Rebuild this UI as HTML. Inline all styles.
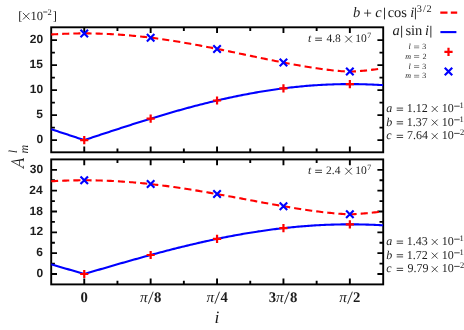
<!DOCTYPE html>
<html><head><meta charset="utf-8"><title>plot</title>
<style>
html,body{margin:0;padding:0;background:#fff;}
svg{display:block;will-change:transform;opacity:0.999}
text{font-family:"Liberation Serif",serif;fill:#1c1c1c;text-rendering:geometricPrecision}
.sb{font-family:"Liberation Sans",sans-serif;font-weight:bold}
.b{font-weight:bold}
.i{font-style:italic}
.sym{stroke:#1c1c1c;fill:none}
</style></head><body>
<svg width="464" height="330" viewBox="0 0 464 330">
<rect width="464" height="330" fill="#fff"/>

<clipPath id="c0"><rect x="51.2" y="27.3" width="332.0" height="125.00000000000001"/></clipPath>
<path d="M84.25,27.3v5.8M84.25,152.3v-5.8M117.45,27.3v3.7M117.45,152.3v-3.7M150.65,27.3v5.8M150.65,152.3v-5.8M183.85,27.3v3.7M183.85,152.3v-3.7M217.05,27.3v5.8M217.05,152.3v-5.8M250.25,27.3v3.7M250.25,152.3v-3.7M283.45,27.3v5.8M283.45,152.3v-5.8M316.65,27.3v3.7M316.65,152.3v-3.7M349.85,27.3v5.8M349.85,152.3v-5.8M51.2,140.10h5.8M383.2,140.10h-5.8M51.2,127.60h3.7M383.2,127.60h-3.7M51.2,115.10h5.8M383.2,115.10h-5.8M51.2,102.60h3.7M383.2,102.60h-3.7M51.2,90.10h5.8M383.2,90.10h-5.8M51.2,77.60h3.7M383.2,77.60h-3.7M51.2,65.10h5.8M383.2,65.10h-5.8M51.2,52.60h3.7M383.2,52.60h-3.7M51.2,40.10h5.8M383.2,40.10h-5.8" stroke="#000" stroke-width="1.9" fill="none"/>
<rect x="51.2" y="27.3" width="332.0" height="125.00000000000001" fill="none" stroke="#000" stroke-width="1.9"/>
<g clip-path="url(#c0)">
<path d="M51.05,34.50 L52.71,34.39 L54.37,34.29 L56.03,34.19 L57.69,34.10 L59.35,34.02 L61.01,33.94 L62.67,33.87 L64.33,33.80 L65.99,33.73 L67.65,33.68 L69.31,33.62 L70.97,33.58 L72.63,33.54 L74.29,33.50 L75.95,33.47 L77.61,33.44 L79.27,33.42 L80.93,33.41 L82.59,33.40 L84.25,33.40 L85.91,33.40 L87.57,33.41 L89.23,33.42 L90.89,33.44 L92.55,33.47 L94.21,33.50 L95.87,33.54 L97.53,33.58 L99.19,33.62 L100.85,33.68 L102.51,33.73 L104.17,33.80 L105.83,33.87 L107.49,33.94 L109.15,34.02 L110.81,34.10 L112.47,34.19 L114.13,34.29 L115.79,34.39 L117.45,34.50 L119.11,34.61 L120.77,34.72 L122.43,34.85 L124.09,34.97 L125.75,35.10 L127.41,35.24 L129.07,35.38 L130.73,35.53 L132.39,35.68 L134.05,35.84 L135.71,36.00 L137.37,36.17 L139.03,36.34 L140.69,36.52 L142.35,36.70 L144.01,36.89 L145.67,37.08 L147.33,37.27 L148.99,37.47 L150.65,37.68 L152.31,37.89 L153.97,38.10 L155.63,38.32 L157.29,38.54 L158.95,38.77 L160.61,39.00 L162.27,39.23 L163.93,39.47 L165.59,39.72 L167.25,39.96 L168.91,40.21 L170.57,40.47 L172.23,40.73 L173.89,40.99 L175.55,41.25 L177.21,41.52 L178.87,41.80 L180.53,42.07 L182.19,42.35 L183.85,42.64 L185.51,42.92 L187.17,43.21 L188.83,43.51 L190.49,43.80 L192.15,44.10 L193.81,44.40 L195.47,44.71 L197.13,45.02 L198.79,45.33 L200.45,45.64 L202.11,45.95 L203.77,46.27 L205.43,46.59 L207.09,46.91 L208.75,47.24 L210.41,47.56 L212.07,47.89 L213.73,48.22 L215.39,48.55 L217.05,48.89 L218.71,49.22 L220.37,49.56 L222.03,49.90 L223.69,50.24 L225.35,50.58 L227.01,50.92 L228.67,51.26 L230.33,51.61 L231.99,51.95 L233.65,52.30 L235.31,52.64 L236.97,52.99 L238.63,53.34 L240.29,53.69 L241.95,54.04 L243.61,54.39 L245.27,54.73 L246.93,55.08 L248.59,55.43 L250.25,55.78 L251.91,56.13 L253.57,56.48 L255.23,56.83 L256.89,57.17 L258.55,57.52 L260.21,57.86 L261.87,58.21 L263.53,58.55 L265.19,58.90 L266.85,59.24 L268.51,59.58 L270.17,59.91 L271.83,60.25 L273.49,60.59 L275.15,60.92 L276.81,61.25 L278.47,61.58 L280.13,61.91 L281.79,62.23 L283.45,62.56 L285.11,62.88 L286.77,63.19 L288.43,63.51 L290.09,63.82 L291.75,64.13 L293.41,64.44 L295.07,64.74 L296.73,65.04 L298.39,65.33 L300.05,65.63 L301.71,65.91 L303.37,66.20 L305.03,66.48 L306.69,66.75 L308.35,67.02 L310.01,67.29 L311.67,67.55 L313.33,67.81 L314.99,68.06 L316.65,68.31 L318.31,68.55 L319.97,68.78 L321.63,69.01 L323.29,69.24 L324.95,69.45 L326.61,69.66 L328.27,69.87 L329.93,70.06 L331.59,70.25 L333.25,70.43 L334.91,70.60 L336.57,70.76 L338.23,70.91 L339.89,71.05 L341.55,71.18 L343.21,71.30 L344.87,71.41 L346.53,71.49 L348.19,71.56 L349.85,71.60 L351.51,71.56 L353.17,71.49 L354.83,71.41 L356.49,71.30 L358.15,71.18 L359.81,71.05 L361.47,70.91 L363.13,70.76 L364.79,70.60 L366.45,70.43 L368.11,70.25 L369.77,70.06 L371.43,69.87 L373.09,69.66 L374.75,69.45 L376.41,69.24 L378.07,69.01 L379.73,68.78" fill="none" stroke="#ff0000" stroke-width="2.1" stroke-dasharray="7.1,4.05" stroke-dashoffset="0"/>
<path d="M51.05,129.17 L52.71,129.71 L54.37,130.26 L56.03,130.80 L57.69,131.34 L59.35,131.88 L61.01,132.43 L62.67,132.97 L64.33,133.52 L65.99,134.06 L67.65,134.61 L69.31,135.16 L70.97,135.71 L72.63,136.25 L74.29,136.80 L75.95,137.35 L77.61,137.90 L79.27,138.45 L80.93,139.00 L82.59,139.55 L84.25,140.10 L85.91,139.55 L87.57,139.00 L89.23,138.45 L90.89,137.90 L92.55,137.35 L94.21,136.80 L95.87,136.25 L97.53,135.71 L99.19,135.16 L100.85,134.61 L102.51,134.06 L104.17,133.52 L105.83,132.97 L107.49,132.43 L109.15,131.88 L110.81,131.34 L112.47,130.80 L114.13,130.26 L115.79,129.71 L117.45,129.17 L119.11,128.64 L120.77,128.10 L122.43,127.56 L124.09,127.03 L125.75,126.49 L127.41,125.96 L129.07,125.43 L130.73,124.90 L132.39,124.37 L134.05,123.84 L135.71,123.32 L137.37,122.80 L139.03,122.27 L140.69,121.75 L142.35,121.23 L144.01,120.72 L145.67,120.20 L147.33,119.69 L148.99,119.18 L150.65,118.67 L152.31,118.16 L153.97,117.66 L155.63,117.16 L157.29,116.66 L158.95,116.16 L160.61,115.66 L162.27,115.17 L163.93,114.68 L165.59,114.19 L167.25,113.70 L168.91,113.22 L170.57,112.74 L172.23,112.26 L173.89,111.78 L175.55,111.31 L177.21,110.84 L178.87,110.37 L180.53,109.91 L182.19,109.45 L183.85,108.99 L185.51,108.53 L187.17,108.08 L188.83,107.63 L190.49,107.18 L192.15,106.74 L193.81,106.30 L195.47,105.86 L197.13,105.43 L198.79,105.00 L200.45,104.57 L202.11,104.15 L203.77,103.73 L205.43,103.31 L207.09,102.90 L208.75,102.49 L210.41,102.09 L212.07,101.69 L213.73,101.29 L215.39,100.89 L217.05,100.50 L218.71,100.12 L220.37,99.73 L222.03,99.35 L223.69,98.98 L225.35,98.61 L227.01,98.24 L228.67,97.88 L230.33,97.52 L231.99,97.16 L233.65,96.81 L235.31,96.46 L236.97,96.12 L238.63,95.78 L240.29,95.45 L241.95,95.12 L243.61,94.80 L245.27,94.47 L246.93,94.16 L248.59,93.85 L250.25,93.54 L251.91,93.23 L253.57,92.94 L255.23,92.64 L256.89,92.35 L258.55,92.07 L260.21,91.79 L261.87,91.51 L263.53,91.24 L265.19,90.97 L266.85,90.71 L268.51,90.46 L270.17,90.20 L271.83,89.96 L273.49,89.71 L275.15,89.48 L276.81,89.24 L278.47,89.02 L280.13,88.79 L281.79,88.58 L283.45,88.36 L285.11,88.15 L286.77,87.95 L288.43,87.75 L290.09,87.56 L291.75,87.37 L293.41,87.19 L295.07,87.01 L296.73,86.84 L298.39,86.67 L300.05,86.51 L301.71,86.35 L303.37,86.20 L305.03,86.06 L306.69,85.91 L308.35,85.78 L310.01,85.65 L311.67,85.52 L313.33,85.40 L314.99,85.29 L316.65,85.18 L318.31,85.07 L319.97,84.97 L321.63,84.88 L323.29,84.79 L324.95,84.71 L326.61,84.63 L328.27,84.56 L329.93,84.49 L331.59,84.43 L333.25,84.37 L334.91,84.32 L336.57,84.27 L338.23,84.23 L339.89,84.20 L341.55,84.17 L343.21,84.14 L344.87,84.12 L346.53,84.11 L348.19,84.10 L349.85,84.10 L351.51,84.10 L353.17,84.11 L354.83,84.12 L356.49,84.14 L358.15,84.17 L359.81,84.20 L361.47,84.23 L363.13,84.27 L364.79,84.32 L366.45,84.37 L368.11,84.43 L369.77,84.49 L371.43,84.56 L373.09,84.63 L374.75,84.71 L376.41,84.79 L378.07,84.88 L379.73,84.97 L381.39,85.07 L383.05,85.18" fill="none" stroke="#0000ff" stroke-width="2.1"/>
</g>
<path d="M80.15,140.10H88.35M84.25,136.00V144.20" stroke="#ff0000" stroke-width="2.2" fill="none"/>
<path d="M80.50,29.65L88.00,37.15M80.50,37.15L88.00,29.65" stroke="#0000ff" stroke-width="2.15" fill="none"/>
<path d="M146.55,118.67H154.75M150.65,114.57V122.77" stroke="#ff0000" stroke-width="2.2" fill="none"/>
<path d="M146.90,33.93L154.40,41.43M146.90,41.43L154.40,33.93" stroke="#0000ff" stroke-width="2.15" fill="none"/>
<path d="M212.95,100.50H221.15M217.05,96.40V104.60" stroke="#ff0000" stroke-width="2.2" fill="none"/>
<path d="M213.30,45.14L220.80,52.64M213.30,52.64L220.80,45.14" stroke="#0000ff" stroke-width="2.15" fill="none"/>
<path d="M279.35,88.36H287.55M283.45,84.26V92.46" stroke="#ff0000" stroke-width="2.2" fill="none"/>
<path d="M279.70,58.81L287.20,66.31M279.70,66.31L287.20,58.81" stroke="#0000ff" stroke-width="2.15" fill="none"/>
<path d="M345.75,84.10H353.95M349.85,80.00V88.20" stroke="#ff0000" stroke-width="2.2" fill="none"/>
<path d="M346.10,67.85L353.60,75.35M346.10,75.35L353.60,67.85" stroke="#0000ff" stroke-width="2.15" fill="none"/>
<text x="36.42" y="143.10" font-size="12" class="sb" fill="#000">0</text>
<text x="36.26" y="118.10" font-size="12" class="sb" fill="#000">5</text>
<text x="29.74" y="93.10" font-size="12" class="sb" fill="#000">10</text>
<text x="29.59" y="68.10" font-size="12" class="sb" fill="#000">15</text>
<text x="29.74" y="43.10" font-size="12" class="sb" fill="#000">20</text>
<clipPath id="c1"><rect x="51.2" y="159.4" width="332.0" height="124.99999999999997"/></clipPath>
<path d="M84.25,159.4v5.8M84.25,284.4v-5.8M117.45,159.4v3.7M117.45,284.4v-3.7M150.65,159.4v5.8M150.65,284.4v-5.8M183.85,159.4v3.7M183.85,284.4v-3.7M217.05,159.4v5.8M217.05,284.4v-5.8M250.25,159.4v3.7M250.25,284.4v-3.7M283.45,159.4v5.8M283.45,284.4v-5.8M316.65,159.4v3.7M316.65,284.4v-3.7M349.85,159.4v5.8M349.85,284.4v-5.8M51.2,274.00h5.8M383.2,274.00h-5.8M51.2,263.58h3.7M383.2,263.58h-3.7M51.2,253.17h5.8M383.2,253.17h-5.8M51.2,242.75h3.7M383.2,242.75h-3.7M51.2,232.34h5.8M383.2,232.34h-5.8M51.2,221.92h3.7M383.2,221.92h-3.7M51.2,211.50h5.8M383.2,211.50h-5.8M51.2,201.09h3.7M383.2,201.09h-3.7M51.2,190.67h5.8M383.2,190.67h-5.8M51.2,180.26h3.7M383.2,180.26h-3.7M51.2,169.84h5.8M383.2,169.84h-5.8" stroke="#000" stroke-width="1.9" fill="none"/>
<rect x="51.2" y="159.4" width="332.0" height="124.99999999999997" fill="none" stroke="#000" stroke-width="1.9"/>
<g clip-path="url(#c1)">
<path d="M51.05,181.27 L52.71,181.17 L54.37,181.08 L56.03,181.00 L57.69,180.92 L59.35,180.84 L61.01,180.77 L62.67,180.70 L64.33,180.64 L65.99,180.59 L67.65,180.54 L69.31,180.49 L70.97,180.45 L72.63,180.41 L74.29,180.38 L75.95,180.35 L77.61,180.33 L79.27,180.31 L80.93,180.30 L82.59,180.29 L84.25,180.29 L85.91,180.29 L87.57,180.30 L89.23,180.31 L90.89,180.33 L92.55,180.35 L94.21,180.38 L95.87,180.41 L97.53,180.45 L99.19,180.49 L100.85,180.54 L102.51,180.59 L104.17,180.64 L105.83,180.70 L107.49,180.77 L109.15,180.84 L110.81,180.92 L112.47,181.00 L114.13,181.08 L115.79,181.17 L117.45,181.27 L119.11,181.36 L120.77,181.47 L122.43,181.58 L124.09,181.69 L125.75,181.81 L127.41,181.93 L129.07,182.06 L130.73,182.19 L132.39,182.32 L134.05,182.46 L135.71,182.61 L137.37,182.76 L139.03,182.91 L140.69,183.07 L142.35,183.23 L144.01,183.39 L145.67,183.56 L147.33,183.74 L148.99,183.91 L150.65,184.10 L152.31,184.28 L153.97,184.47 L155.63,184.67 L157.29,184.86 L158.95,185.07 L160.61,185.27 L162.27,185.48 L163.93,185.69 L165.59,185.91 L167.25,186.13 L168.91,186.35 L170.57,186.58 L172.23,186.81 L173.89,187.04 L175.55,187.28 L177.21,187.52 L178.87,187.76 L180.53,188.01 L182.19,188.26 L183.85,188.51 L185.51,188.77 L187.17,189.02 L188.83,189.28 L190.49,189.55 L192.15,189.81 L193.81,190.08 L195.47,190.35 L197.13,190.63 L198.79,190.90 L200.45,191.18 L202.11,191.46 L203.77,191.74 L205.43,192.03 L207.09,192.31 L208.75,192.60 L210.41,192.89 L212.07,193.18 L213.73,193.48 L215.39,193.77 L217.05,194.07 L218.71,194.37 L220.37,194.67 L222.03,194.97 L223.69,195.27 L225.35,195.58 L227.01,195.88 L228.67,196.19 L230.33,196.49 L231.99,196.80 L233.65,197.11 L235.31,197.41 L236.97,197.72 L238.63,198.03 L240.29,198.34 L241.95,198.65 L243.61,198.96 L245.27,199.27 L246.93,199.59 L248.59,199.90 L250.25,200.21 L251.91,200.52 L253.57,200.83 L255.23,201.14 L256.89,201.44 L258.55,201.75 L260.21,202.06 L261.87,202.37 L263.53,202.67 L265.19,202.98 L266.85,203.28 L268.51,203.58 L270.17,203.88 L271.83,204.18 L273.49,204.48 L275.15,204.78 L276.81,205.07 L278.47,205.37 L280.13,205.66 L281.79,205.95 L283.45,206.23 L285.11,206.52 L286.77,206.80 L288.43,207.08 L290.09,207.36 L291.75,207.64 L293.41,207.91 L295.07,208.18 L296.73,208.44 L298.39,208.71 L300.05,208.97 L301.71,209.22 L303.37,209.47 L305.03,209.72 L306.69,209.97 L308.35,210.21 L310.01,210.45 L311.67,210.68 L313.33,210.91 L314.99,211.13 L316.65,211.35 L318.31,211.57 L319.97,211.78 L321.63,211.98 L323.29,212.18 L324.95,212.37 L326.61,212.56 L328.27,212.74 L329.93,212.91 L331.59,213.08 L333.25,213.24 L334.91,213.39 L336.57,213.53 L338.23,213.67 L339.89,213.80 L341.55,213.91 L343.21,214.02 L344.87,214.11 L346.53,214.19 L348.19,214.25 L349.85,214.28 L351.51,214.25 L353.17,214.19 L354.83,214.11 L356.49,214.02 L358.15,213.91 L359.81,213.80 L361.47,213.67 L363.13,213.53 L364.79,213.39 L366.45,213.24 L368.11,213.08 L369.77,212.91 L371.43,212.74 L373.09,212.56 L374.75,212.37 L376.41,212.18 L378.07,211.98 L379.73,211.78" fill="none" stroke="#ff0000" stroke-width="2.1" stroke-dasharray="7.1,4.05" stroke-dashoffset="0"/>
<path d="M51.05,264.31 L52.71,264.79 L54.37,265.27 L56.03,265.75 L57.69,266.23 L59.35,266.71 L61.01,267.20 L62.67,267.68 L64.33,268.16 L65.99,268.65 L67.65,269.13 L69.31,269.62 L70.97,270.10 L72.63,270.59 L74.29,271.08 L75.95,271.56 L77.61,272.05 L79.27,272.54 L80.93,273.03 L82.59,273.51 L84.25,274.00 L85.91,273.51 L87.57,273.03 L89.23,272.54 L90.89,272.05 L92.55,271.56 L94.21,271.08 L95.87,270.59 L97.53,270.10 L99.19,269.62 L100.85,269.13 L102.51,268.65 L104.17,268.16 L105.83,267.68 L107.49,267.20 L109.15,266.71 L110.81,266.23 L112.47,265.75 L114.13,265.27 L115.79,264.79 L117.45,264.31 L119.11,263.84 L120.77,263.36 L122.43,262.88 L124.09,262.41 L125.75,261.94 L127.41,261.46 L129.07,260.99 L130.73,260.52 L132.39,260.05 L134.05,259.59 L135.71,259.12 L137.37,258.66 L139.03,258.19 L140.69,257.73 L142.35,257.27 L144.01,256.82 L145.67,256.36 L147.33,255.90 L148.99,255.45 L150.65,255.00 L152.31,254.55 L153.97,254.10 L155.63,253.66 L157.29,253.21 L158.95,252.77 L160.61,252.33 L162.27,251.89 L163.93,251.46 L165.59,251.03 L167.25,250.60 L168.91,250.17 L170.57,249.74 L172.23,249.32 L173.89,248.89 L175.55,248.48 L177.21,248.06 L178.87,247.64 L180.53,247.23 L182.19,246.82 L183.85,246.42 L185.51,246.01 L187.17,245.61 L188.83,245.21 L190.49,244.82 L192.15,244.42 L193.81,244.03 L195.47,243.65 L197.13,243.26 L198.79,242.88 L200.45,242.50 L202.11,242.13 L203.77,241.76 L205.43,241.39 L207.09,241.02 L208.75,240.66 L210.41,240.30 L212.07,239.94 L213.73,239.59 L215.39,239.24 L217.05,238.89 L218.71,238.55 L220.37,238.21 L222.03,237.87 L223.69,237.54 L225.35,237.21 L227.01,236.89 L228.67,236.56 L230.33,236.25 L231.99,235.93 L233.65,235.62 L235.31,235.31 L236.97,235.01 L238.63,234.71 L240.29,234.41 L241.95,234.12 L243.61,233.83 L245.27,233.55 L246.93,233.27 L248.59,232.99 L250.25,232.72 L251.91,232.45 L253.57,232.18 L255.23,231.92 L256.89,231.67 L258.55,231.41 L260.21,231.17 L261.87,230.92 L263.53,230.68 L265.19,230.44 L266.85,230.21 L268.51,229.99 L270.17,229.76 L271.83,229.54 L273.49,229.33 L275.15,229.12 L276.81,228.91 L278.47,228.71 L280.13,228.51 L281.79,228.32 L283.45,228.13 L285.11,227.95 L286.77,227.77 L288.43,227.59 L290.09,227.42 L291.75,227.25 L293.41,227.09 L295.07,226.93 L296.73,226.78 L298.39,226.63 L300.05,226.49 L301.71,226.35 L303.37,226.21 L305.03,226.08 L306.69,225.96 L308.35,225.84 L310.01,225.72 L311.67,225.61 L313.33,225.50 L314.99,225.40 L316.65,225.30 L318.31,225.21 L319.97,225.12 L321.63,225.04 L323.29,224.96 L324.95,224.89 L326.61,224.82 L328.27,224.75 L329.93,224.69 L331.59,224.64 L333.25,224.59 L334.91,224.54 L336.57,224.50 L338.23,224.47 L339.89,224.44 L341.55,224.41 L343.21,224.39 L344.87,224.37 L346.53,224.36 L348.19,224.35 L349.85,224.35 L351.51,224.35 L353.17,224.36 L354.83,224.37 L356.49,224.39 L358.15,224.41 L359.81,224.44 L361.47,224.47 L363.13,224.50 L364.79,224.54 L366.45,224.59 L368.11,224.64 L369.77,224.69 L371.43,224.75 L373.09,224.82 L374.75,224.89 L376.41,224.96 L378.07,225.04 L379.73,225.12 L381.39,225.21 L383.05,225.30" fill="none" stroke="#0000ff" stroke-width="2.1"/>
</g>
<path d="M80.15,274.00H88.35M84.25,269.90V278.10" stroke="#ff0000" stroke-width="2.2" fill="none"/>
<path d="M80.50,176.54L88.00,184.04M80.50,184.04L88.00,176.54" stroke="#0000ff" stroke-width="2.15" fill="none"/>
<path d="M146.55,255.00H154.75M150.65,250.90V259.10" stroke="#ff0000" stroke-width="2.2" fill="none"/>
<path d="M146.90,180.35L154.40,187.85M146.90,187.85L154.40,180.35" stroke="#0000ff" stroke-width="2.15" fill="none"/>
<path d="M212.95,238.89H221.15M217.05,234.79V242.99" stroke="#ff0000" stroke-width="2.2" fill="none"/>
<path d="M213.30,190.32L220.80,197.82M213.30,197.82L220.80,190.32" stroke="#0000ff" stroke-width="2.15" fill="none"/>
<path d="M279.35,228.13H287.55M283.45,224.03V232.23" stroke="#ff0000" stroke-width="2.2" fill="none"/>
<path d="M279.70,202.48L287.20,209.98M279.70,209.98L287.20,202.48" stroke="#0000ff" stroke-width="2.15" fill="none"/>
<path d="M345.75,224.35H353.95M349.85,220.25V228.45" stroke="#ff0000" stroke-width="2.2" fill="none"/>
<path d="M346.10,210.53L353.60,218.03M346.10,218.03L353.60,210.53" stroke="#0000ff" stroke-width="2.15" fill="none"/>
<text x="36.42" y="277.00" font-size="12" class="sb" fill="#000">0</text>
<text x="36.36" y="256.17" font-size="12" class="sb" fill="#000">6</text>
<text x="29.73" y="235.34" font-size="12" class="sb" fill="#000">12</text>
<text x="29.62" y="214.50" font-size="12" class="sb" fill="#000">18</text>
<text x="29.32" y="193.67" font-size="12" class="sb" fill="#000">24</text>
<text x="29.74" y="172.84" font-size="12" class="sb" fill="#000">30</text>
<text x="80.58" y="301.90" font-size="14.7" class="b" fill="#000">0</text>
<text x="140.02" y="301.90" font-size="15.4" class="i" fill="#000">π</text>
<path d="M148.40,303.80L153.15,291.70" stroke="#000" stroke-width="0.8" fill="none"/>
<text x="153.91" y="301.90" font-size="14.7" class="b" fill="#000">8</text>
<text x="206.42" y="301.90" font-size="15.4" class="i" fill="#000">π</text>
<path d="M214.80,303.80L219.55,291.70" stroke="#000" stroke-width="0.8" fill="none"/>
<text x="220.60" y="301.90" font-size="14.7" class="b" fill="#000">4</text>
<text x="268.65" y="301.90" font-size="14.7" class="b" fill="#000">3</text>
<text x="276.02" y="301.90" font-size="15.4" class="i" fill="#000">π</text>
<path d="M284.40,303.80L289.15,291.70" stroke="#000" stroke-width="0.8" fill="none"/>
<text x="289.91" y="301.90" font-size="14.7" class="b" fill="#000">8</text>
<text x="339.22" y="301.90" font-size="15.4" class="i" fill="#000">π</text>
<path d="M347.60,303.80L352.35,291.70" stroke="#000" stroke-width="0.8" fill="none"/>
<text x="352.98" y="301.90" font-size="14.7" class="b" fill="#000">2</text>
<text x="214.53" y="322.70" font-size="17.5" class="i">i</text>
<text x="18.37" y="20.00" font-size="12.5">[</text>
<path class="sym" stroke-width="0.8" d="M22.90,12.90L29.50,19.50M22.90,19.50L29.50,12.90"/>
<text x="30.60" y="20.00" font-size="12.5">10</text>
<path class="sym" stroke-width="0.8" d="M43.20,12.00H47.30"/>
<text x="47.53" y="15.10" font-size="8.5">2</text>
<text x="52.67" y="20.00" font-size="12.5">]</text>
<path d="M11.4,161.0L23.7,158.8L23.7,160.35L11.4,161.8Z" fill="#111"/>
<path class="sym" stroke-width="0.75" d="M11.6,161.4L23.5,167.9M23.4,158.1V161.4M23.4,165.8V168.8M19.5,160.4V165.6"/>
<text transform="translate(16.9,152.7) rotate(-90)" x="-0.64" y="0" font-size="12" class="i">l</text>
<text transform="translate(28.0,153.2) rotate(-90)" x="-0.43" y="0" font-size="12" class="i">m</text>
<text x="307.89" y="42.10" font-size="11.5" class="i">t</text>
<path class="sym" stroke-width="0.8" d="M315.20,38.15H322.00M315.20,40.35H322.00"/>
<text x="326.38" y="42.10" font-size="11.5">4.8</text>
<path class="sym" stroke-width="0.8" d="M345.30,35.80L351.90,42.40M345.30,42.40L351.90,35.80"/>
<text x="355.29" y="42.10" font-size="11.5">10</text>
<text x="367.37" y="38.20" font-size="8">7</text>
<text x="307.89" y="174.20" font-size="11.5" class="i">t</text>
<path class="sym" stroke-width="0.8" d="M315.20,170.25H322.00M315.20,172.45H322.00"/>
<text x="326.09" y="174.20" font-size="11.5">2.4</text>
<path class="sym" stroke-width="0.8" d="M345.30,167.90L351.90,174.50M345.30,174.50L351.90,167.90"/>
<text x="355.29" y="174.20" font-size="11.5">10</text>
<text x="367.37" y="170.30" font-size="8">7</text>
<text x="386.24" y="112.10" font-size="12" class="i">a</text>
<path class="sym" stroke-width="0.8" d="M396.70,108.10H403.10M396.70,110.30H403.10"/>
<text x="406.85" y="112.10" font-size="12">1.12</text>
<path class="sym" stroke-width="0.8" d="M431.75,106.05L437.65,111.95M431.75,111.95L437.65,106.05"/>
<text x="441.65" y="112.10" font-size="12">10</text>
<path class="sym" stroke-width="0.8" d="M454.20,106.20H459.70"/>
<text x="459.55" y="108.00" font-size="8.5">1</text>
<text x="386.15" y="125.70" font-size="12" class="i">b</text>
<path class="sym" stroke-width="0.8" d="M396.70,121.70H403.10M396.70,123.90H403.10"/>
<text x="406.85" y="125.70" font-size="12">1.37</text>
<path class="sym" stroke-width="0.8" d="M431.75,119.65L437.65,125.55M431.75,125.55L437.65,119.65"/>
<text x="441.65" y="125.70" font-size="12">10</text>
<path class="sym" stroke-width="0.8" d="M454.20,119.80H459.70"/>
<text x="459.55" y="121.60" font-size="8.5">1</text>
<text x="386.23" y="139.30" font-size="12" class="i">c</text>
<path class="sym" stroke-width="0.8" d="M396.70,135.30H403.10M396.70,137.50H403.10"/>
<text x="407.11" y="139.30" font-size="12">7.64</text>
<path class="sym" stroke-width="0.8" d="M431.75,133.25L437.65,139.15M431.75,139.15L437.65,133.25"/>
<text x="441.65" y="139.30" font-size="12">10</text>
<path class="sym" stroke-width="0.8" d="M454.20,133.40H459.70"/>
<text x="459.93" y="135.20" font-size="8.5">2</text>
<text x="386.24" y="245.10" font-size="12" class="i">a</text>
<path class="sym" stroke-width="0.8" d="M396.70,241.10H403.10M396.70,243.30H403.10"/>
<text x="406.85" y="245.10" font-size="12">1.43</text>
<path class="sym" stroke-width="0.8" d="M431.75,239.05L437.65,244.95M431.75,244.95L437.65,239.05"/>
<text x="441.65" y="245.10" font-size="12">10</text>
<path class="sym" stroke-width="0.8" d="M454.20,239.20H459.70"/>
<text x="459.55" y="241.00" font-size="8.5">1</text>
<text x="386.15" y="258.70" font-size="12" class="i">b</text>
<path class="sym" stroke-width="0.8" d="M396.70,254.70H403.10M396.70,256.90H403.10"/>
<text x="406.85" y="258.70" font-size="12">1.72</text>
<path class="sym" stroke-width="0.8" d="M431.75,252.65L437.65,258.55M431.75,258.55L437.65,252.65"/>
<text x="441.65" y="258.70" font-size="12">10</text>
<path class="sym" stroke-width="0.8" d="M454.20,252.80H459.70"/>
<text x="459.55" y="254.60" font-size="8.5">1</text>
<text x="386.23" y="272.30" font-size="12" class="i">c</text>
<path class="sym" stroke-width="0.8" d="M396.70,268.30H403.10M396.70,270.50H403.10"/>
<text x="407.51" y="272.30" font-size="12">9.79</text>
<path class="sym" stroke-width="0.8" d="M431.75,266.25L437.65,272.15M431.75,272.15L437.65,266.25"/>
<text x="441.65" y="272.30" font-size="12">10</text>
<path class="sym" stroke-width="0.8" d="M454.20,266.40H459.70"/>
<text x="459.93" y="268.20" font-size="8.5">2</text>
<text x="352.96" y="16.75" font-size="14.5" class="i">b</text>
<path class="sym" stroke-width="0.8" d="M364.05,13.10H371.15M367.60,9.55V16.65"/>
<text x="375.15" y="16.75" font-size="14.5" class="i">c</text>
<path class="sym" stroke-width="0.9" d="M384.50,7.70V19.40"/>
<text x="387.65" y="16.75" font-size="14.5">cos</text>
<text x="410.19" y="16.75" font-size="14.5" class="i">i</text>
<path class="sym" stroke-width="0.9" d="M415.45,7.70V19.40"/>
<text x="416.71" y="12.30" font-size="10.3">3</text>
<text x="422.90" y="12.30" font-size="10.3">/</text>
<text x="426.55" y="12.30" font-size="10.3">2</text>
<path d="M440.3,12.6H457.2" stroke="#ff0000" stroke-width="2.1" stroke-dasharray="7.2,3.3"/>
<text x="392.47" y="35.10" font-size="14.5" class="i">a</text>
<path class="sym" stroke-width="0.9" d="M401.60,25.80V37.60"/>
<text x="405.41" y="35.10" font-size="14.5">sin</text>
<text x="424.89" y="35.10" font-size="14.5" class="i">i</text>
<path class="sym" stroke-width="0.9" d="M430.85,25.80V37.60"/>
<path d="M440.4,32.1H456.4" stroke="#0000ff" stroke-width="2.1"/>
<text x="422.31" y="49.00" font-size="8" fill="#222">3</text>
<path class="sym" stroke-width="0.5" d="M414.00,46.00H419.20M414.00,47.80H419.20"/>
<text x="408.47" y="49.00" font-size="8" class="i" fill="#111">l</text>
<text x="422.44" y="58.60" font-size="8" fill="#222">2</text>
<path class="sym" stroke-width="0.5" d="M414.00,55.60H419.20M414.00,57.40H419.20"/>
<text x="405.21" y="58.60" font-size="8" class="i" fill="#111">m</text>
<text x="422.31" y="68.70" font-size="8" fill="#222">3</text>
<path class="sym" stroke-width="0.5" d="M414.00,65.70H419.20M414.00,67.50H419.20"/>
<text x="408.47" y="68.70" font-size="8" class="i" fill="#111">l</text>
<text x="422.31" y="78.30" font-size="8" fill="#222">3</text>
<path class="sym" stroke-width="0.5" d="M414.00,75.30H419.20M414.00,77.10H419.20"/>
<text x="405.21" y="78.30" font-size="8" class="i" fill="#111">m</text>
<path d="M444.4,51.9H452.6M448.5,47.8V56.0" stroke="#ff0000" stroke-width="2.2"/>
<path d="M444.75,67.65L452.25,75.15M444.75,75.15L452.25,67.65" stroke="#0000ff" stroke-width="2.15"/>
</svg></body></html>
